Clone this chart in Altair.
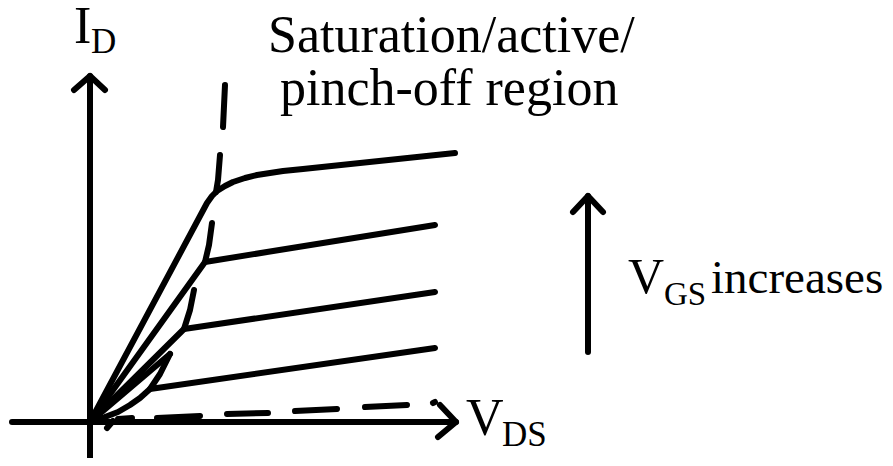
import altair as alt
import pandas as pd

# Schematic MOSFET output characteristics (arbitrary units: V_DS, I_D)
curve_1 = [(0, 0), (117, 219), (122, 226), (127, 231), (135, 236), (143, 240), (155, 244),
           (167, 247), (180, 249), (193, 251), (213, 253), (365, 269)]
curve_2 = [(0, 0), (115, 160), (345, 197)]
curve_3 = [(0, 0), (94, 93), (345, 130)]
curve_4 = [(0, 0), (15, 5), (28, 10), (40, 17), (50, 24), (60, 33), (345, 74)]

# pinch-off locus, drawn as separate hand strokes
locus_strokes = [
    [(0, 0), (80, 68)],
    [(135, 337), (133, 295)],
    [(130, 267), (128, 242), (126, 230)],
    [(122, 199), (119, 177), (115, 160)],
    [(104, 132), (100, 112), (94, 93)],
    [(80, 68), (70, 48), (60, 33)],
]
# cut-off dashed line near the V_DS axis
cutoff_strokes = [
    [(17, -6), (23, 1)],
    [(28, 3), (42, 4)],
    [(67, 4), (110, 6)],
    [(137, 8), (178, 9)],
    [(205, 11), (247, 13)],
    [(275, 15), (317, 17)],
    [(343, 19), (345, 20)],
]
# axes and arrows
axis_strokes = [
    [(0, -40), (0, 346)],
    [(-16, 332), (0, 346), (15, 332)],
    [(-78, 0), (366, 0)],
    [(350, 17), (366, 0), (348, -15)],
    [(498, 70), (498, 226)],
    [(483, 210), (498, 226), (513, 210)],
]

# text labels: (text, vds, id, font size)
labels_text = ["I", "D", "Saturation/active/", "pinch-off region", "V", "GS", "increases", "V", "DS"]
labels_vds = [-16, 1, 178, 190, 538, 574, 621, 376, 412]
labels_id = [379, 369, 370, 317, 129, 117, 129, -13, -24]
labels_size = [52, 35, 52, 52, 50, 33, 47, 52, 35]

rows = []
all_strokes = ([("c1", curve_1), ("c2", curve_2), ("c3", curve_3), ("c4", curve_4)]
               + [(f"l{k}", s) for k, s in enumerate(locus_strokes)]
               + [(f"d{k}", s) for k, s in enumerate(cutoff_strokes)]
               + [(f"a{k}", s) for k, s in enumerate(axis_strokes)])
for name, pts in all_strokes:
    for i, (v, c) in enumerate(pts):
        rows.append({"stroke": name, "i": i, "vds": v, "id": c})
df = pd.DataFrame(rows)

tdf = pd.DataFrame({"text": labels_text, "vds": labels_vds, "id": labels_id, "size": labels_size})

xs = alt.Scale(domain=[-82, 795], nice=False, zero=False)
ys = alt.Scale(domain=[-36, 414], nice=False, zero=False)

lines = alt.Chart(df).mark_line(
    color="black", strokeWidth=6, strokeCap="round", strokeJoin="round", clip=False
).encode(
    x=alt.X("vds:Q", scale=xs, axis=None),
    y=alt.Y("id:Q", scale=ys, axis=None),
    detail="stroke:N",
    order="i:Q",
)

texts = alt.Chart(tdf).mark_text(
    align="left", baseline="alphabetic", font="Times New Roman, Liberation Serif, Times, serif",
    color="black"
).encode(
    x=alt.X("vds:Q", scale=xs, axis=None),
    y=alt.Y("id:Q", scale=ys, axis=None),
    text="text:N",
    size=alt.Size("size:Q", scale=None, legend=None),
)

chart = alt.layer(lines, texts).properties(
    width=877, height=450, autosize="none", padding=0
).configure_view(stroke=None)

chart.save("out.html", embed_options={"renderer": "svg", "actions": False})
